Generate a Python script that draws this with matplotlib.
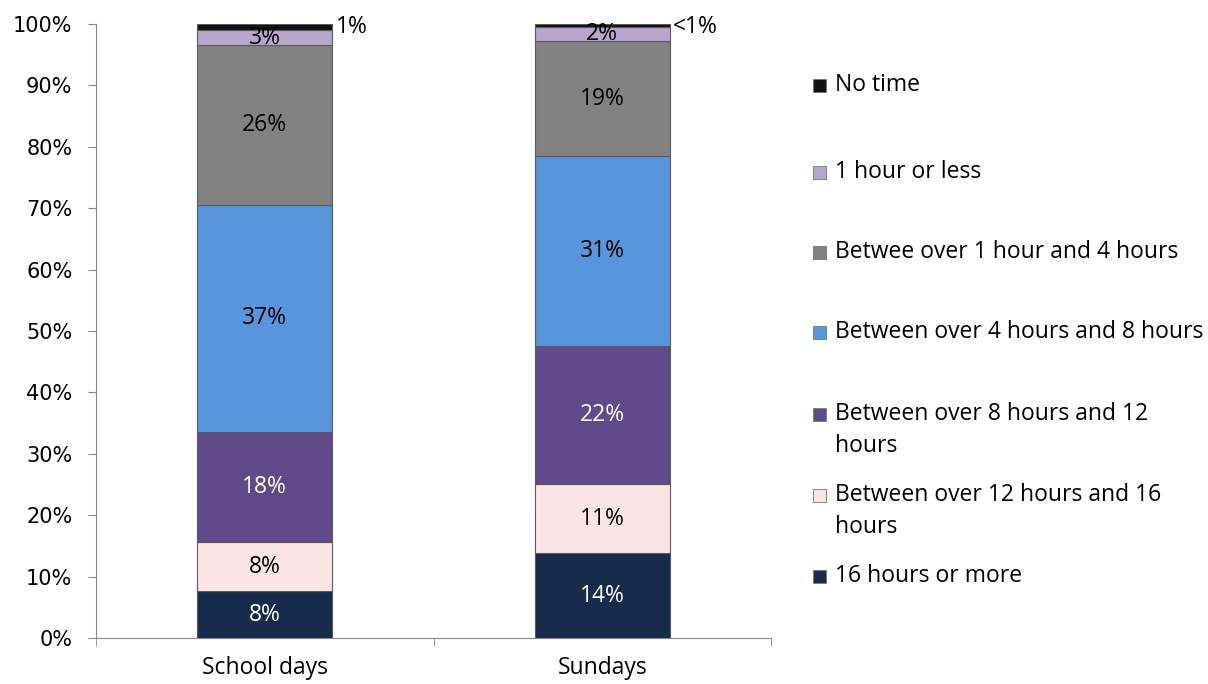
import matplotlib.pyplot as plt
from matplotlib.patches import Rectangle

plt.rcParams['font.family'] = ['Open Sans', 'DejaVu Sans']

# Data (percent of pupils)
categories = ["School days", "Sundays"]
series_names = ["16 hours or more", "Between over 12 hours and 16\nhours",
                "Between over 8 hours and 12\nhours", "Between over 4 hours and 8 hours",
                "Betwee over 1 hour and 4 hours", "1 hour or less", "No time"]
school_days = [7.6, 8.0, 18.0, 37.0, 26.0, 2.4, 1.0]
sundays = [13.8, 11.3, 22.5, 30.9, 18.7, 2.3, 0.5]
school_labels = ["8%", "8%", "18%", "37%", "26%", "3%", "1%"]
sunday_labels = ["14%", "11%", "22%", "31%", "19%", "2%", "<1%"]

colors = ["#172B4C", "#FBE5E4", "#604A8A", "#5895DC", "#828282", "#B7A6CE", "#111111"]
text_colors = ["white", "black", "white", "black", "black", "black", "black"]

FS = 16.5

fig = plt.figure(figsize=(12.08, 6.84), dpi=100)
ax = fig.add_axes([96 / 1208, 46 / 684, 675 / 1208, 614 / 684])

x = [0, 1]
bottoms = [0.0, 0.0]
for i, name in enumerate(series_names):
    vals = [school_days[i], sundays[i]]
    ax.bar(x, vals, width=0.4, bottom=bottoms, color=colors[i],
           edgecolor="#5a5a5a", linewidth=0.8, zorder=3)
    labs = [school_labels[i], sunday_labels[i]]
    for j in range(2):
        yc = bottoms[j] + vals[j] / 2
        if i == 6:
            # tiny top segment: label outside to the right
            ax.text(x[j] + 0.21, bottoms[j] + vals[j] - 0.5, labs[j], ha="left", va="center",
                    fontsize=FS, color="black")
        else:
            ax.text(x[j], yc, labs[j], ha="center", va="center",
                    fontsize=FS, color=text_colors[i], zorder=4)
    bottoms = [bottoms[0] + vals[0], bottoms[1] + vals[1]]

ax.set_xlim(-0.5, 1.5)
ax.set_ylim(0, 100)
ax.set_yticks(range(0, 101, 10))
ax.set_yticklabels([f"{v}%" for v in range(0, 101, 10)], fontsize=15,
                   family="DejaVu Sans")
ax.set_xticks([-0.5, 0.5, 1.5], minor=True)
ax.set_xticks(x)
ax.set_xticklabels(categories, fontsize=FS)
ax.tick_params(axis="x", which="major", length=0, pad=13)
ax.tick_params(axis="x", which="minor", length=6, color="#888888")
ax.tick_params(axis="y", length=6, color="#888888", pad=11)
for s in ["top", "right"]:
    ax.spines[s].set_visible(False)
for s in ["left", "bottom"]:
    ax.spines[s].set_color("#888888")

# Legend, drawn by hand (top entry first)
legend_y = [85, 172, 252, 332, 414, 495, 576]
for k, i in enumerate(range(6, -1, -1)):
    yp = 1 - legend_y[k] / 684
    fig.patches.append(Rectangle((813 / 1208, yp - 7 / 684), 13 / 1208, 13 / 684,
                                 transform=fig.transFigure, facecolor=colors[i],
                                 edgecolor="#777777", linewidth=0.6))
    for n, line in enumerate(series_names[i].split("\n")):
        fig.text(835 / 1208, yp - n * 32 / 684, line, ha="left", va="center",
                 fontsize=FS)

fig.savefig("out.png", dpi=100)
